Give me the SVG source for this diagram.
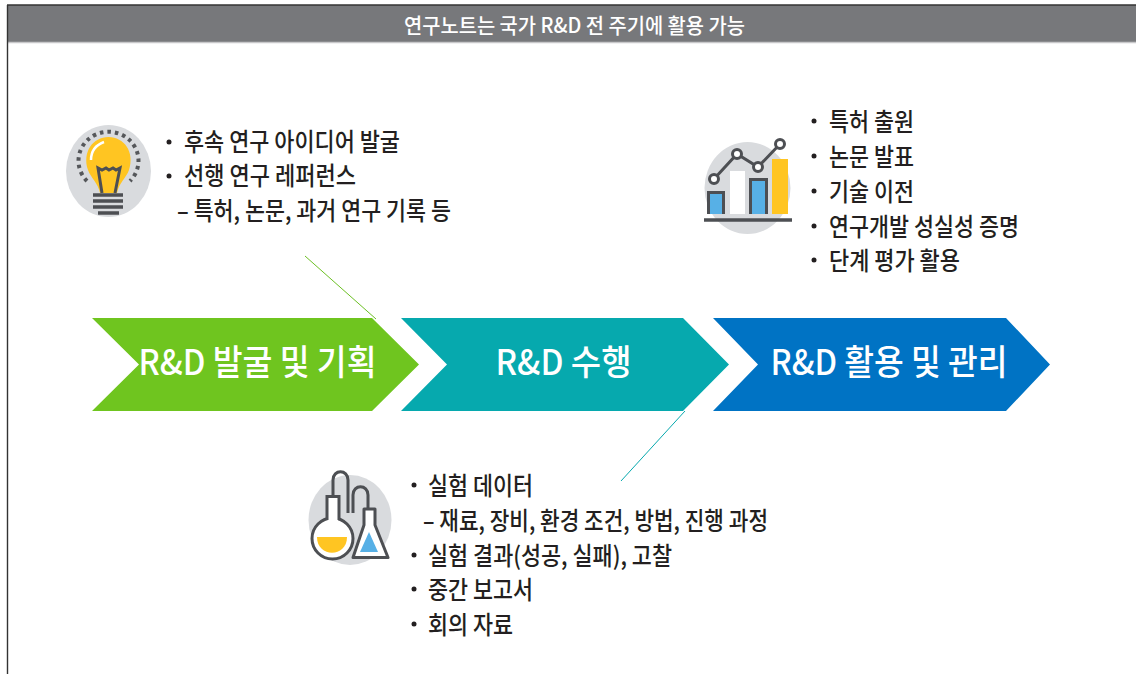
<svg xmlns="http://www.w3.org/2000/svg" width="1136" height="674" viewBox="0 0 1136 674">
<style>
text{font-family:"Noto Sans CJK KR","Noto Sans",sans-serif;fill:#231f20}
.b{font-size:25px;font-weight:500}
.h{font-size:35px;fill:#fff;font-weight:500}
.d{fill:none;stroke:#4d4f53;stroke-width:3}
.g{fill:#d9dbde}
.p{fill:#231f20}
</style>
<rect width="1136" height="674" fill="#fff"/>
<g id="header">
<rect x="7" y="5" width="1129" height="37" fill="#77787b"/>
<path d="M7 5H1136" stroke="#333" stroke-width="1.4" fill="none"/>
<path d="M7 42.500H1136" stroke="#c8c8ca" stroke-width="1.500" fill="none"/>
<path d="M7.500 5V674" stroke="#333" stroke-width="1.400" fill="none"/>
<text x="404" y="33" textLength="341" lengthAdjust="spacingAndGlyphs" style="fill:#fff;font-size:21px;font-weight:500">연구노트는 국가 R&amp;D 전 주기에 활용 가능</text>
</g>
<g id="connectors" fill="none" stroke-width="1">
<path d="M305 256L376 319" stroke="#6cc024"/>
<path d="M621 481L685 411" stroke="#06a9ae"/>
</g>
<g id="step1">
<path d="M92 318H372L419 364.500L372 411H92L139 364.500Z" fill="#6fc51f"/>
<text class="h" x="138.500" y="375" textLength="238" lengthAdjust="spacingAndGlyphs">R&amp;D 발굴 및 기획</text>
</g>
<g id="step2">
<path d="M401 318H683L729 364.500L683 411H401L447 364.500Z" fill="#06a9ae"/>
<text class="h" x="495.500" y="375" textLength="136" lengthAdjust="spacingAndGlyphs">R&amp;D 수행</text>
</g>
<g id="step3">
<path d="M713 318H1006L1050 364.500L1006 411H713L758 364.500Z" fill="#0073c4"/>
<text class="h" x="770.500" y="375" textLength="237" lengthAdjust="spacingAndGlyphs">R&amp;D 활용 및 관리</text>
</g>
<g id="icon-bulb">
<ellipse class="g" cx="108.500" cy="171" rx="42.500" ry="46"/>
<path d="M87 181A30 29 0 1 1 130 181" fill="none" stroke="#55575a" stroke-width="4" stroke-dasharray="3.500 4"/>
<path d="M100 193C98 183 91 178 88 170C82 152 93 137 108.500 137C124 137 135 152 129 170C126 178 119 183 117 193Z" fill="#ffc522"/>
<path d="M91 160C91 151 96 145 104 142" fill="none" stroke="#fff" stroke-width="2.500"/>
<path class="d" d="M102 193L98 168L102 170L106 168L109 170L113 168L116 170L120 168L115 193"/>
<path d="M93 195H123M93 201H123M93 207H123M98 213H119" stroke="#4d4f53" stroke-width="3.500" fill="none"/>
</g>
<g id="icon-chart">
<ellipse class="g" cx="747.500" cy="188" rx="43" ry="46"/>
<path d="M708.500 214V192.500H723.500V214" fill="#57b0e6" stroke="#4d4f53" stroke-width="3"/>
<rect x="730" y="171" width="15" height="43" fill="#fff"/>
<path d="M750.500 214V179.500H766.500V214" fill="#57b0e6" stroke="#4d4f53" stroke-width="3"/>
<rect x="772" y="159" width="16" height="55" fill="#ffc522"/>
<path d="M704 220H792" stroke="#4d4f53" stroke-width="3.500"/>
<path d="M714 179L737 154L758 167L780 144" stroke="#4d4f53" stroke-width="3" fill="none"/>
<g fill="#fff" stroke="#4d4f53" stroke-width="3"><circle cx="714" cy="179" r="4.500"/><circle cx="737" cy="154" r="4.500"/><circle cx="758" cy="167" r="4.500"/><circle cx="780" cy="144" r="4.500"/></g>
</g>
<g id="icon-flask">
<ellipse class="g" cx="350" cy="520" rx="41.500" ry="45"/>
<path class="d" d="M333 495V480C333 469 348 469 348 480V513"/>
<path class="d" d="M353 513V495C353 484 368 484 368 495V508"/>
<circle cx="332.500" cy="538.500" r="20.500" fill="#fff" stroke="#4d4f53" stroke-width="3"/>
<rect x="328" y="496" width="10" height="25" fill="#fff"/>
<path class="d" d="M327 520V496.500H339V520"/>
<path d="M317 537H347C347 558 317 558 317 537Z" fill="#ffc522"/>
<path d="M364 509H375V525L388 557.500H353L364 525Z" fill="#fff" stroke="#4d4f53" stroke-width="3" stroke-linejoin="round"/>
<path d="M369 532L378 552H360Z" fill="#57b0e6"/>
</g>
<g id="text-1">
<circle class="p" cx="169" cy="142" r="2.500"/><circle class="p" cx="169" cy="176" r="2.500"/>
<text class="b" x="184" y="151" textLength="216" lengthAdjust="spacingAndGlyphs">후속 연구 아이디어 발굴</text>
<text class="b" x="184" y="185" textLength="172" lengthAdjust="spacingAndGlyphs">선행 연구 레퍼런스</text>
<text class="b" x="177" y="220" textLength="274" lengthAdjust="spacingAndGlyphs">– 특허, 논문, 과거 연구 기록 등</text>
</g>
<g id="text-2">
<circle class="p" cx="814" cy="121" r="2.500"/><circle class="p" cx="814" cy="156" r="2.500"/><circle class="p" cx="814" cy="191" r="2.500"/><circle class="p" cx="814" cy="226" r="2.500"/><circle class="p" cx="814" cy="260" r="2.500"/>
<text class="b" x="829" y="131" textLength="85" lengthAdjust="spacingAndGlyphs">특허 출원</text>
<text class="b" x="829" y="166" textLength="85" lengthAdjust="spacingAndGlyphs">논문 발표</text>
<text class="b" x="829" y="201" textLength="85" lengthAdjust="spacingAndGlyphs">기술 이전</text>
<text class="b" x="829" y="236" textLength="190" lengthAdjust="spacingAndGlyphs">연구개발 성실성 증명</text>
<text class="b" x="829" y="270" textLength="131" lengthAdjust="spacingAndGlyphs">단계 평가 활용</text>
</g>
<g id="text-3">
<circle class="p" cx="414" cy="485" r="2.500"/><circle class="p" cx="414" cy="555" r="2.500"/><circle class="p" cx="414" cy="589" r="2.500"/><circle class="p" cx="414" cy="624" r="2.500"/>
<text class="b" x="428" y="495" textLength="105" lengthAdjust="spacingAndGlyphs">실험 데이터</text>
<text class="b" x="423" y="530" textLength="345" lengthAdjust="spacingAndGlyphs">– 재료, 장비, 환경 조건, 방법, 진행 과정</text>
<text class="b" x="428" y="565" textLength="244" lengthAdjust="spacingAndGlyphs">실험 결과(성공, 실패), 고찰</text>
<text class="b" x="428" y="599" textLength="105" lengthAdjust="spacingAndGlyphs">중간 보고서</text>
<text class="b" x="428" y="634" textLength="85" lengthAdjust="spacingAndGlyphs">회의 자료</text>
</g>
</svg>
